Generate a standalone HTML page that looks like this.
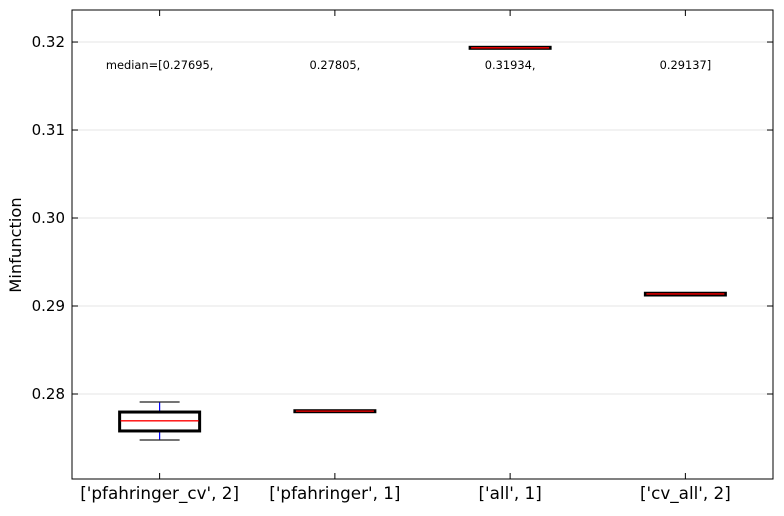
<!DOCTYPE html>
<html><head><meta charset="utf-8"><style>body{margin:0;background:#fff}svg{font-family:"DejaVu Sans","Liberation Sans",sans-serif}</style></head>
<body>
<svg id="c" width="784" height="511"></svg>
<script>
const categories=["['pfahringer_cv', 2]","['pfahringer', 1]","['all', 1]","['cv_all', 2]"];
const q1=[0.27580,0.27800,0.31930,0.29125];
const q3=[0.27795,0.27810,0.31940,0.29145];
const medians=[0.27695,0.27805,0.31934,0.29137];
const whiskLo=[0.27477,0.27805,0.31934,0.29137];
const whiskHi=[0.27909,0.27805,0.31934,0.29137];
const medianLabels=["median=[0.27695,","0.27805,","0.31934,","0.29137]"];
const yTicks=[0.28,0.29,0.30,0.31,0.32];
const yTickLabels=["0.28","0.29","0.30","0.31","0.32"];
const L=72,R=773,T=10,B=479,ymin=0.27034,ymax=0.32364;
const X=i=>L+(i+0.5)*(R-L)/categories.length;
const Y=v=>B-(v-ymin)/(ymax-ymin)*(B-T);
const s=document.getElementById('c');const NS='http://www.w3.org/2000/svg';
function mk(t,a,txt){const e=document.createElementNS(NS,t);for(const k in a)e.setAttribute(k,a[k]);if(txt!=null)e.textContent=txt;s.appendChild(e);return e;}
yTicks.forEach((v,i)=>{const y=Y(v);
let g=mk('line',{x1:L,x2:R,y1:y,y2:y,stroke:'#e6e6e6','stroke-width':1});

mk('line',{x1:L,x2:L+6,y1:y,y2:y,stroke:'#000'});mk('line',{x1:R-6,x2:R,y1:y,y2:y,stroke:'#000'});
let t=mk('text',{x:L-7,y:y+5,'text-anchor':'end','font-size':15},yTickLabels[i]);
});
categories.forEach((c,i)=>{const x=X(i);
mk('line',{x1:x,x2:x,y1:B,y2:B-6,stroke:'#000'});mk('line',{x1:x,x2:x,y1:T,y2:T+6,stroke:'#000'});
let t=mk('text',{x:x,y:499,'text-anchor':'middle','font-size':16.8},c);

mk('line',{x1:x,x2:x,y1:Y(whiskHi[i]),y2:Y(q3[i]),stroke:'#00f','stroke-width':1.2});
mk('line',{x1:x,x2:x,y1:Y(q1[i]),y2:Y(whiskLo[i]),stroke:'#00f','stroke-width':1.2});
mk('line',{x1:x-20,x2:x+20,y1:Y(whiskHi[i]),y2:Y(whiskHi[i]),stroke:'#222','stroke-width':1.3});
mk('line',{x1:x-20,x2:x+20,y1:Y(whiskLo[i]),y2:Y(whiskLo[i]),stroke:'#222','stroke-width':1.3});
let b=mk('rect',{x:x-40,y:Y(q3[i]),width:80,height:Math.max(Y(q1[i])-Y(q3[i]),1),fill:'none',stroke:'#000','stroke-width':3});

let m=mk('line',{x1:x-39,x2:x+39,y1:Y(medians[i]),y2:Y(medians[i]),stroke:'#f00','stroke-width':1.3});

let ml=mk('text',{x:x,y:69,'text-anchor':'middle','font-size':11.4},medianLabels[i]);
});
let f=mk('rect',{x:L,y:T,width:R-L,height:B-T,fill:'none',stroke:'#000','stroke-width':1});

let yt=mk('text',{x:21,y:245,'text-anchor':'middle','font-size':16.3,transform:'rotate(-90 21 245)'},'Minfunction');

</script>
</body></html>
